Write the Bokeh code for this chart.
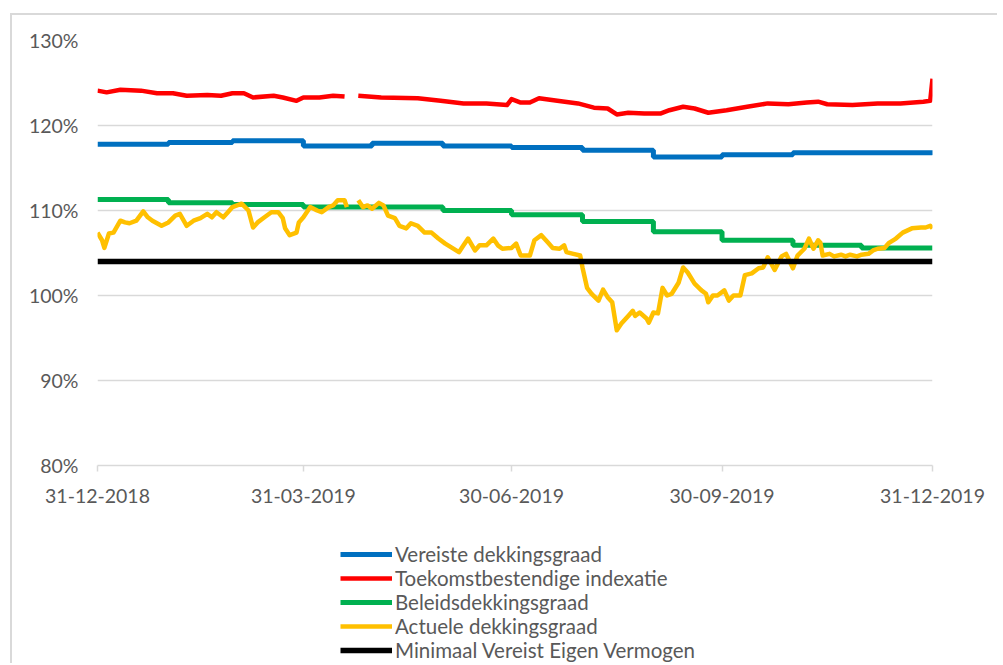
import numpy as np
import pandas as pd
from bokeh.plotting import figure
from bokeh.layouts import column
from bokeh.models import (FixedTicker, DatetimeTickFormatter, Legend, LegendItem,
                          Range1d, PrintfTickFormatter)
from bokeh.embed import file_html
from bokeh.resources import INLINE

# ---------------- data ----------------
start_date = "2018-12-31"
tick_dates = ["2018-12-31", "2019-03-31", "2019-06-30", "2019-09-30", "2019-12-31"]
y_ticks = [80, 90, 100, 110, 120, 130]

month_ends = ["2018-12-31", "2019-01-31", "2019-02-28", "2019-03-31", "2019-04-30",
              "2019-05-31", "2019-06-30", "2019-07-31", "2019-08-31", "2019-09-30",
              "2019-10-31", "2019-11-30", "2019-12-31"]
vereiste = [117.8, 118.0, 118.2, 117.6, 117.9, 117.6, 117.4, 117.1, 116.3, 116.55,
            116.8, 116.8, 117.1]
beleids = [111.3, 110.9, 110.7, 110.4, 110.4, 110.0, 109.5, 108.7, 107.5, 106.5,
           105.9, 105.6, 105.6]

# days after 31-12-2018
toek_days = [0, 4, 10, 19, 26, 33, 39, 48, 54, 59, 64, 68, 77, 81, 87, 90, 97, 103, 108,
             110, 114, 124, 140, 150, 160, 170, 179, 181, 185, 189, 193, 201, 210, 217,
             223, 227, 232, 239, 246, 250, 256, 261, 267, 275, 284, 293, 302, 310, 315,
             319, 330, 341, 351, 361, 364, 365]
toek_vals = [124.1, 123.9, 124.2, 124.1, 123.8, 123.8, 123.5, 123.6, 123.5, 123.8, 123.8,
             123.3, 123.5, 123.3, 122.9, 123.3, 123.3, 123.5, 123.4,
             np.nan, 123.5, 123.3, 123.2, 122.9, 122.6, 122.6, 122.4, 123.1, 122.7, 122.7,
             123.2, 122.9, 122.6, 122.1, 122.0, 121.3, 121.5, 121.4, 121.4, 121.8, 122.2,
             122.0, 121.5, 121.8, 122.2, 122.6, 122.5, 122.7, 122.8, 122.5, 122.4, 122.6,
             122.6, 122.8, 122.9, 125.5]

act_days = [0, 2, 3, 5, 7, 10, 12, 14, 17, 20,
            22, 24, 28, 31, 34, 36, 39, 42, 45, 48,
            50, 52, 55, 57, 59, 63, 66, 68, 70, 73,
            76, 79, 81, 82, 84, 87, 88, 90, 93, 96,
            98, 101, 103, 105, 108, 109, 111, 114, 116, 118,
            120, 123, 125, 127, 130, 132, 135, 137, 140, 143,
            146, 149, 152, 155, 158, 160, 162, 165, 167, 170,
            173, 175, 177, 181, 183, 185, 188, 189, 191, 194,
            197, 199, 202, 204, 205, 208, 211, 212, 214, 216,
            219, 221, 223, 225, 227, 229, 232, 234, 235, 237,
            240, 241, 243, 245, 247, 249, 251, 254, 256, 258,
            261, 264, 266, 267, 269, 271, 274, 276, 278, 281,
            283, 286, 289, 291, 293, 296, 299, 301, 304, 306,
            309, 311, 313, 315, 316, 317, 320, 322, 325, 327,
            329, 332, 334, 337, 339, 341, 344, 346, 349, 352,
            356, 360, 362, 364, 365]
act_vals = [107.4, 106.5, 105.6, 107.3, 107.4, 108.8, 108.6, 108.5, 108.8, 109.9,
            109.2, 108.8, 108.2, 108.6, 109.4, 109.6, 108.2, 108.8, 109.1, 109.6,
            109.2, 109.8, 109.2, 109.8, 110.4, 110.8, 110.0, 108.0, 108.6, 109.2,
            109.8, 109.8, 109.1, 107.9, 107.1, 107.4, 108.6, 109.2, 110.4, 110.0,
            109.8, 110.4, 110.6, 111.2, 111.2, 110.4, np.nan, 111.2, 110.4, 110.6,
            110.2, 110.9, 110.6, 109.4, 109.1, 108.2, 107.9, 108.5, 108.2, 107.4,
            107.4, 106.7, 106.1, 105.6, 105.1, 105.9, 106.7, 105.3, 105.9, 105.9,
            106.7, 105.9, 105.5, 105.6, 106.1, 104.7, 104.7, 104.7, 106.5, 107.1,
            106.2, 105.6, 105.5, 105.9, 105.1, 104.9, 104.7, 103.3, 100.9, 100.2,
            99.4, 100.7, 99.8, 99.2, 95.9, 96.7, 97.6, 98.2, 97.6, 98.0,
            97.3, 96.8, 98.0, 97.9, 100.9, 100.0, 100.2, 101.5, 103.3, 102.7,
            101.4, 100.6, 100.2, 99.2, 100.0, 100.0, 100.6, 99.4, 100.0, 100.0,
            102.4, 102.6, 103.2, 103.3, 104.5, 103.0, 104.6, 104.9, 103.2, 104.7,
            105.5, 106.7, 105.5, 106.5, 106.2, 104.7, 104.9, 104.6, 104.8, 104.6,
            104.8, 104.6, 104.8, 104.9, 105.3, 105.5, 105.6, 106.2, 106.7, 107.4,
            107.9, 108.0, 108.0, 108.2, 107.9]

mvev_days = [0, 365]
mvev_vals = [104.0, 104.0]

labels = ["Vereiste dekkingsgraad", "Toekomstbestendige indexatie", "Beleidsdekkingsgraad",
          "Actuele dekkingsgraad", "Minimaal Vereist Eigen Vermogen"]
colors = ["#0070C0", "#FF0000", "#00B050", "#FFC000", "#000000"]
widths = [5, 4.5, 5, 4.5, 5.5]

# ---------------- helpers ----------------
t0 = pd.Timestamp(start_date)
def to_dates(days):
    return [t0 + pd.Timedelta(days=int(d)) for d in days]

FONT = "Lato"
GREY = "#595959"
GRID = "#d9d9d9"

# ---------------- main chart ----------------
p = figure(width=985, height=505, x_axis_type="datetime",
           output_backend="svg", toolbar_location=None,
           min_border_left=85, min_border_right=65, min_border_top=25, min_border_bottom=55,
           x_range=Range1d(pd.Timestamp(tick_dates[0]), pd.Timestamp(tick_dates[-1])),
           y_range=Range1d(80, 130))
p.outline_line_color = None
p.background_fill_color = "white"
p.border_fill_color = "white"

series = [
    (pd.to_datetime(month_ends), vereiste, "step"),
    (to_dates(toek_days), toek_vals, "line"),
    (pd.to_datetime(month_ends), beleids, "step"),
    (to_dates(act_days), act_vals, "line"),
    (to_dates(mvev_days), mvev_vals, "line"),
]
for (xs, ys, kind), c, w in zip(series, colors, widths):
    if kind == "step":
        p.step(xs, ys, mode="after", line_color=c, line_width=w)
    else:
        p.line(xs, ys, line_color=c, line_width=w, line_join="round")

# axes
p.xaxis.ticker = FixedTicker(ticks=[pd.Timestamp(d).value / 1e6 for d in tick_dates])
fmt = "%d-%m-%Y"
p.xaxis.formatter = DatetimeTickFormatter(microseconds=fmt, milliseconds=fmt, seconds=fmt,
                                          minsec=fmt, minutes=fmt, hourmin=fmt, hours=fmt,
                                          days=fmt, months=fmt, years=fmt)
p.xaxis.axis_line_color = GRID
p.xaxis.axis_line_width = 1.5
p.xaxis.major_tick_line_color = GRID
p.xaxis.major_tick_line_width = 1.5
p.xaxis.major_tick_out = 6
p.xaxis.major_tick_in = 0
p.xaxis.minor_tick_line_color = None
p.xaxis.major_label_text_font = FONT
p.xaxis.major_label_text_font_size = "19.5px"
p.xaxis.major_label_text_color = GREY
p.xaxis.major_label_standoff = 17

p.yaxis.ticker = FixedTicker(ticks=y_ticks)
p.yaxis.formatter = PrintfTickFormatter(format="%d%%")
p.yaxis.axis_line_color = None
p.yaxis.major_tick_line_color = None
p.yaxis.minor_tick_line_color = None
p.yaxis.major_tick_out = 0
p.yaxis.major_label_standoff = 19
p.yaxis.major_label_text_font = FONT
p.yaxis.major_label_text_font_size = "19.5px"
p.yaxis.major_label_text_color = GREY

p.xgrid.grid_line_color = None
p.ygrid.grid_line_color = GRID
p.ygrid.grid_line_width = 1.5

# ---------------- legend strip ----------------
p2 = figure(width=985, height=143, output_backend="svg", toolbar_location=None,
            x_axis_location=None, y_axis_location=None, min_border=0,
            x_range=Range1d(1000, 2000), y_range=Range1d(0, 1))
p2.outline_line_color = None
p2.grid.grid_line_color = None
items = []
for (xs, ys), c, w, lab in zip(
        [(act_days, act_vals), (toek_days, toek_vals), (act_days, act_vals),
         (act_days, act_vals), (mvev_days, mvev_vals)], colors, widths, labels):
    r = p2.line(xs, ys, line_color=c, line_width=w)
    items.append(LegendItem(label=lab, renderers=[r]))

legend = Legend(items=items, orientation="vertical", location=(243, 1))
legend.label_text_font = FONT
legend.label_text_font_size = "20.5px"
legend.label_text_color = GREY
legend.glyph_width = 52
legend.glyph_height = 20
legend.label_height = 20
legend.label_standoff = 3
legend.spacing = 0
legend.padding = 0
legend.margin = 0
legend.border_line_color = None
legend.background_fill_alpha = 0
p2.add_layout(legend, "center")

layout = column(p, p2, spacing=0)
layout.styles = {"margin-left": "10px", "margin-top": "13px",
                 "border-left": "2px solid #d9d9d9", "border-top": "2px solid #d9d9d9"}

open("out.html", "w").write(file_html(layout, INLINE))
